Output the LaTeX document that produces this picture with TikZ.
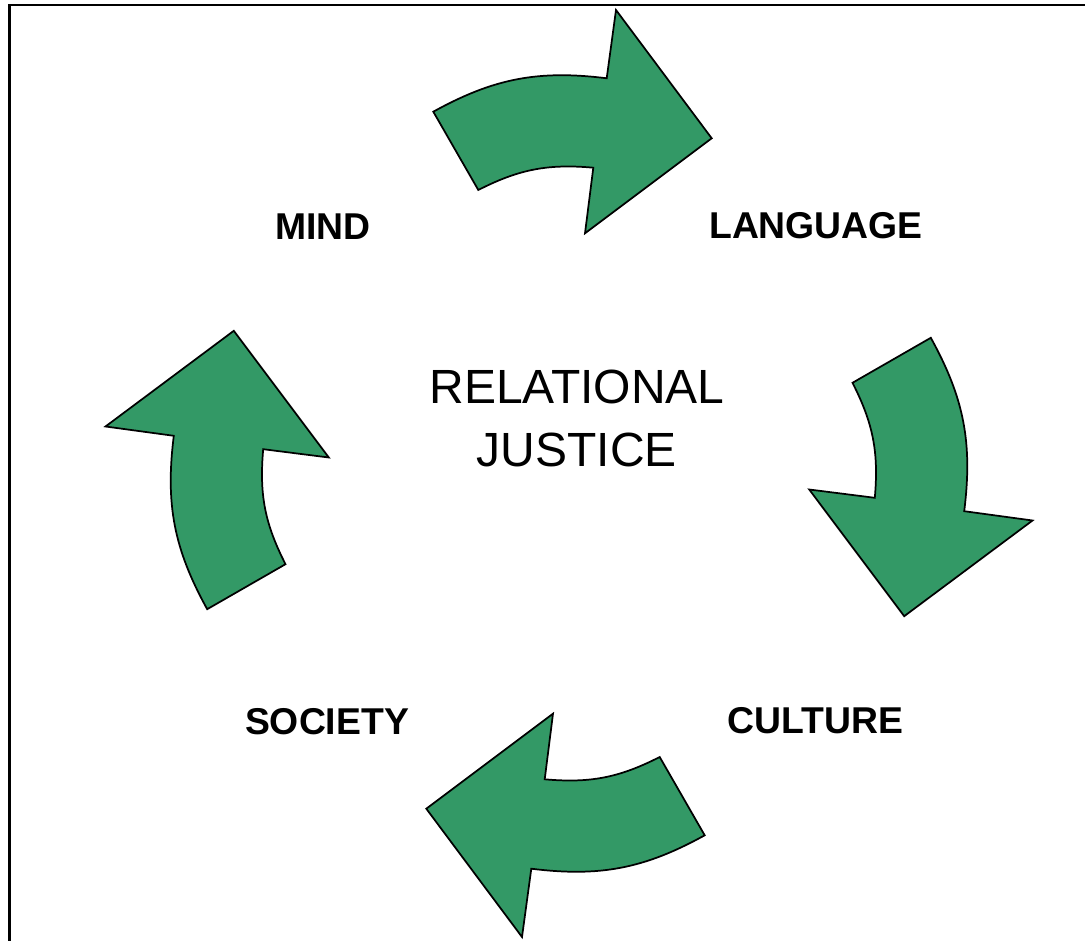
\documentclass[tikz,border=0pt]{standalone}
\usepackage{fontspec}
\setmainfont{Liberation Sans}
\definecolor{arrowgreen}{RGB}{51,153,102}
\tikzset{
  cyclearrow/.style={fill=arrowgreen, draw=black, line width=1.3pt, line join=miter},
  stagelabel/.style={font=\fontsize{28}{33}\selectfont\bfseries, inner sep=0pt},
}
\begin{document}
\begin{tikzpicture}[x=0.75pt, y=0.75pt]
  \useasboundingbox (0,0) rectangle (1085,940);

  % Frame (runs off at the right and the bottom)
  \coordinate (frameBL) at (9.5,-10);
  \coordinate (frameTL) at (9.5,935);
  \coordinate (frameTR) at (1095,935);
  \draw [line width=1.7pt] (frameBL) -- (frameTL) -- (frameTR);

  % Curved arrows: one shape, turned a quarter at a time about the centre
  \foreach \ang in {0,-90,-180,-270} {
    \begin{scope}[shift={(569,466.5)}, rotate=\ang]
      \draw [cyclearrow]
        (-135.7,361.8) -- (-90.7,283.5) to [bend left=16] (24.3,305.8)
        -- (16,240.2) -- (142.7,335.2) -- (47,463.5) -- (37.7,395.2)
        to [bend right=18] (-135.7,361.8) -- cycle;
    \end{scope}
  }

  % Stage labels
  \node [stagelabel] (mind) at (323,713) {MIND};
  \node [stagelabel] (language) at (816,714) {LANGUAGE};
  \node [stagelabel] (culture) at (815.5,219) {CULTURE};
  \node [stagelabel] (society) at (327,218) {SOCIETY};

  % Centre text
  \node [font=\fontsize{36}{47}\selectfont, align=center, inner sep=0pt]
    (justice) at (577,521.5) {RELATIONAL\\JUSTICE};
\end{tikzpicture}
\end{document}
